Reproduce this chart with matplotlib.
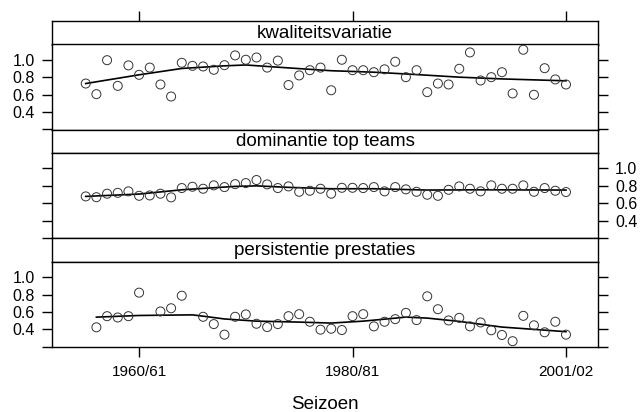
import matplotlib.pyplot as plt
import numpy as np

plt.rcParams['font.family'] = ['Liberation Sans', 'DejaVu Sans']

# season index 0..45 (first season 1955/56)
seasons = np.arange(46)
tick_pos = [5, 25, 45]
tick_labels = ['1960/61', '1980/81', '2001/02']

kwaliteit = [0.727, 0.605, 0.995, 0.70, 0.935, 0.827, 0.91, 0.716, 0.578, 0.965,
             0.93, 0.923, 0.885, 0.938, 1.05, 1.0, 1.026, 0.91, 0.99, 0.71,
             0.82, 0.88, 0.91, 0.65, 1.0, 0.88, 0.88, 0.857, 0.89, 0.977,
             0.80, 0.88, 0.628, 0.727, 0.716, 0.896, 1.084, 0.762, 0.80, 0.857,
             0.613, 1.115, 0.598, 0.903, 0.774, 0.716]
dominantie = [0.679, 0.67, 0.71, 0.72, 0.737, 0.686, 0.69, 0.71, 0.668, 0.775,
              0.79, 0.767, 0.806, 0.786, 0.82, 0.832, 0.867, 0.817, 0.775, 0.794,
              0.732, 0.744, 0.767, 0.71, 0.778, 0.778, 0.775, 0.786, 0.737, 0.786,
              0.76, 0.732, 0.698, 0.686, 0.755, 0.794, 0.767, 0.737, 0.806, 0.767,
              0.767, 0.806, 0.732, 0.775, 0.744, 0.729]
persistentie = [np.nan, 0.424, 0.552, 0.537, 0.552, 0.822, np.nan, 0.606, 0.643, 0.787,
                np.nan, 0.545, 0.461, 0.34, 0.545, 0.572, 0.465, 0.427, 0.461, 0.552,
                0.575, 0.488, 0.397, 0.408, 0.393, 0.552, 0.575, 0.435, 0.488, 0.518,
                0.59, 0.507, 0.78, 0.632, 0.503, 0.533, 0.435, 0.48, 0.39, 0.336,
                0.265, 0.556, 0.447, 0.367, 0.488, 0.34]

# smooth curves (index, value)
smooth_kw_x = [0, 5, 9, 13, 15, 17, 21, 23, 27, 31, 35, 39, 45]
smooth_kw_y = [0.727, 0.827, 0.90, 0.93, 0.94, 0.923, 0.89, 0.874, 0.857, 0.83, 0.80, 0.78, 0.758]
smooth_do_x = [0, 5, 9, 14, 16, 19, 23, 27, 32, 37, 45]
smooth_do_y = [0.679, 0.706, 0.755, 0.794, 0.80, 0.783, 0.767, 0.767, 0.752, 0.755, 0.752]
smooth_pe_x = [1, 5, 10, 11, 13, 16, 20, 23, 26, 30, 32, 35, 39, 45]
smooth_pe_y = [0.541, 0.56, 0.567, 0.552, 0.52, 0.495, 0.484, 0.473, 0.495, 0.541, 0.53, 0.492, 0.427, 0.374]

panels = [
    ('kwaliteitsvariatie', kwaliteit, smooth_kw_x, smooth_kw_y, 'left'),
    ('dominantie top teams', dominantie, smooth_do_x, smooth_do_y, 'right'),
    ('persistentie prestaties', persistentie, smooth_pe_x, smooth_pe_y, 'left'),
]

W, H = 643, 412
fig = plt.figure(figsize=(W / 100, H / 100), dpi=100)

left, right = 52, 598
top = 21
strip_h, panel_h = 23.5, 85.2
xlim = (-3.16, 48.0)
ylim = (0.197, 1.175)
tick_len = 7.2

for i, (name, vals, sx, sy, side) in enumerate(panels):
    s_top = top + i * (strip_h + panel_h)
    p_top = s_top + strip_h
    # strip
    sax = fig.add_axes([left / W, 1 - p_top / H, (right - left) / W, strip_h / H])
    sax.set_xlim(xlim)
    sax.set_ylim(0, 1)
    sax.set_yticks([])
    sax.text(0.5, 0.48, name, transform=sax.transAxes, ha='center', va='center', fontsize=13.5)
    if i == 0:
        sax.set_xticks(tick_pos)
        sax.tick_params(axis='x', top=True, bottom=False, labeltop=False, labelbottom=False,
                        direction='out', length=tick_len, width=1.0)
    else:
        sax.set_xticks([])
    for sp in sax.spines.values():
        sp.set_linewidth(1.0)

    # panel
    ax = fig.add_axes([left / W, 1 - (p_top + panel_h) / H, (right - left) / W, panel_h / H])
    ax.scatter(seasons, vals, s=42, facecolors='none', edgecolors='#333333', linewidths=0.7, zorder=3)
    ax.plot(sx, sy, color='black', lw=1.2, zorder=2)
    ax.set_xlim(xlim)
    ax.set_ylim(ylim)
    ax.set_yticks([0.2, 0.4, 0.6, 0.8, 1.0])
    ax.set_yticklabels(['', '0.4', '0.6', '0.8', '1.0'])
    ax.tick_params(axis='y', left=True, right=True,
                   labelleft=(side == 'left'), labelright=(side == 'right'),
                   direction='out', length=tick_len, width=1.0, labelsize=11.5, pad=5)
    if i == 2:
        ax.set_xticks(tick_pos)
        ax.set_xticklabels(tick_labels)
        ax.tick_params(axis='x', direction='out', length=tick_len, width=1.0, labelsize=11, pad=6)
        ax.set_xlabel('Seizoen', fontsize=13.5, labelpad=12)
    else:
        ax.set_xticks([])
    for sp in ax.spines.values():
        sp.set_linewidth(1.0)

fig.savefig('out.png', dpi=100)
